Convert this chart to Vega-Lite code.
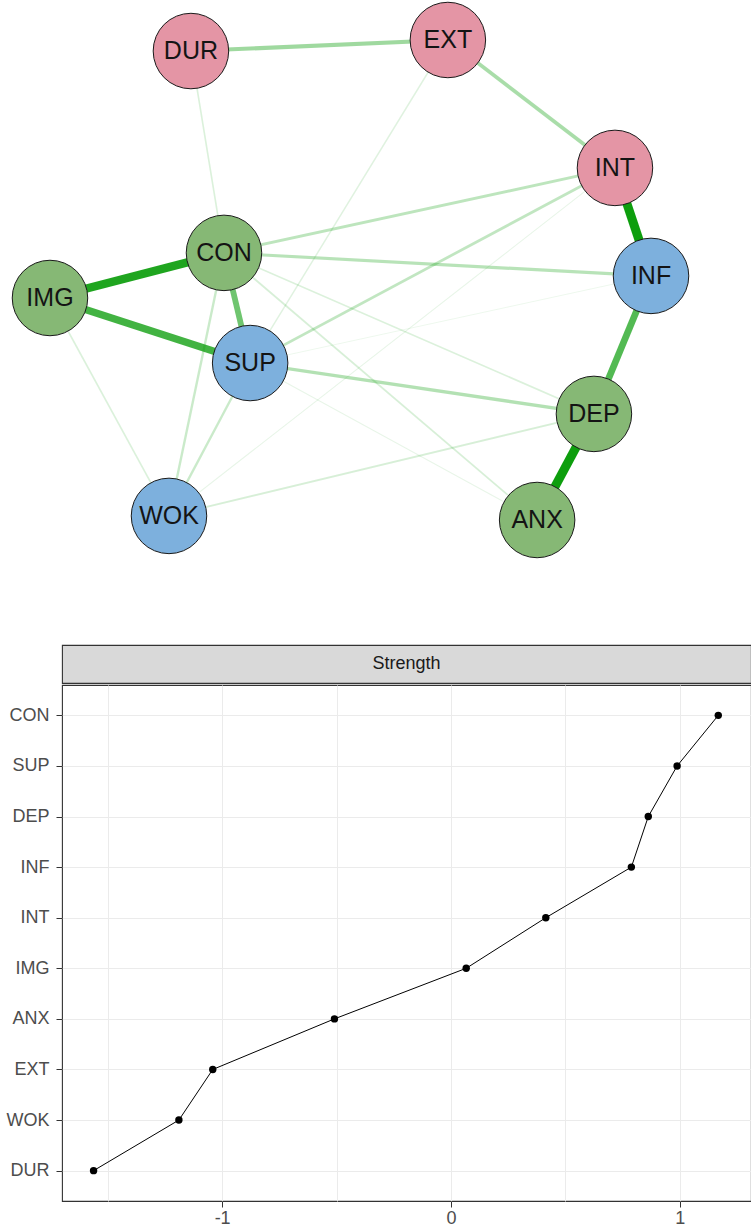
{
  "$schema": "https://vega.github.io/schema/vega-lite/v6.json",
  "padding": 0,
  "background": "white",
  "spacing": 0,
  "datasets": {
    "nodes": [
      {"node": "DUR", "group": "G1", "x": -0.531, "y": 0.954},
      {"node": "EXT", "group": "G1", "x": 0.324, "y": 1.0},
      {"node": "INT", "group": "G1", "x": 0.880, "y": 0.467},
      {"node": "CON", "group": "G2", "x": -0.421, "y": 0.113},
      {"node": "INF", "group": "G3", "x": 1.0, "y": 0.017},
      {"node": "IMG", "group": "G2", "x": -1.0, "y": -0.075},
      {"node": "SUP", "group": "G3", "x": -0.334, "y": -0.346},
      {"node": "DEP", "group": "G2", "x": 0.810, "y": -0.558},
      {"node": "WOK", "group": "G3", "x": -0.604, "y": -0.983},
      {"node": "ANX", "group": "G2", "x": 0.621, "y": -1.0}
    ],
    "edges": [
      {"from": "SUP", "to": "INF", "weight": 0.02},
      {"from": "SUP", "to": "ANX", "weight": 0.03},
      {"from": "WOK", "to": "INT", "weight": 0.03},
      {"from": "EXT", "to": "SUP", "weight": 0.05},
      {"from": "DUR", "to": "CON", "weight": 0.06},
      {"from": "IMG", "to": "WOK", "weight": 0.06},
      {"from": "CON", "to": "DEP", "weight": 0.06},
      {"from": "CON", "to": "ANX", "weight": 0.07},
      {"from": "WOK", "to": "DEP", "weight": 0.07},
      {"from": "CON", "to": "WOK", "weight": 0.10},
      {"from": "SUP", "to": "WOK", "weight": 0.10},
      {"from": "SUP", "to": "INT", "weight": 0.12},
      {"from": "CON", "to": "INT", "weight": 0.13},
      {"from": "CON", "to": "INF", "weight": 0.14},
      {"from": "SUP", "to": "DEP", "weight": 0.15},
      {"from": "EXT", "to": "INT", "weight": 0.17},
      {"from": "DUR", "to": "EXT", "weight": 0.19},
      {"from": "CON", "to": "SUP", "weight": 0.28},
      {"from": "INF", "to": "DEP", "weight": 0.33},
      {"from": "IMG", "to": "SUP", "weight": 0.36},
      {"from": "IMG", "to": "CON", "weight": 0.42},
      {"from": "INT", "to": "INF", "weight": 0.45},
      {"from": "DEP", "to": "ANX", "weight": 0.45}
    ],
    "strength": [
      {"node": "DUR", "strength": -1.562},
      {"node": "WOK", "strength": -1.189},
      {"node": "EXT", "strength": -1.041},
      {"node": "ANX", "strength": -0.509},
      {"node": "IMG", "strength": 0.067},
      {"node": "INT", "strength": 0.415},
      {"node": "INF", "strength": 0.789},
      {"node": "DEP", "strength": 0.863},
      {"node": "SUP", "strength": 0.989},
      {"node": "CON", "strength": 1.169}
    ]
  },
  "vconcat": [
    {
      "width": 690,
      "height": 643,
      "view": {"stroke": null},
      "layer": [
        {
          "data": {"name": "edges"},
          "transform": [
            {"lookup": "from", "from": {"data": {"name": "nodes"}, "key": "node", "fields": ["x", "y"]}, "as": ["x1", "y1"]},
            {"lookup": "to", "from": {"data": {"name": "nodes"}, "key": "node", "fields": ["x", "y"]}, "as": ["x2", "y2"]}
          ],
          "mark": {"type": "rule", "color": "#009900", "strokeCap": "butt"},
          "encoding": {
            "x": {"field": "x1", "type": "quantitative", "scale": {"domain": [-0.960, 1.336], "nice": false, "zero": false}, "axis": null},
            "y": {"field": "y1", "type": "quantitative", "scale": {"domain": [-1.5167, 1.1625], "nice": false, "zero": false}, "axis": null},
            "x2": {"field": "x2"},
            "y2": {"field": "y2"},
            "strokeWidth": {"field": "weight", "type": "quantitative", "scale": {"domain": [0.02, 0.45], "range": [0.9, 9]}, "legend": null},
            "opacity": {"field": "weight", "type": "quantitative", "scale": {"type": "pow", "exponent": 1.2, "domain": [0, 0.45], "range": [0.06, 0.95]}, "legend": null}
          }
        },
        {
          "data": {"name": "nodes"},
          "mark": {"type": "circle", "size": 5700, "stroke": "#1A1A1A", "strokeWidth": 1, "opacity": 1},
          "encoding": {
            "x": {"field": "x", "type": "quantitative", "scale": {"domain": [-0.960, 1.336], "nice": false, "zero": false}, "axis": null},
            "y": {"field": "y", "type": "quantitative", "scale": {"domain": [-1.5167, 1.1625], "nice": false, "zero": false}, "axis": null},
            "fill": {"field": "group", "type": "nominal", "scale": {"domain": ["G1", "G2", "G3"], "range": ["#E495A5", "#86B875", "#7DB0DD"]}, "legend": null}
          }
        },
        {
          "data": {"name": "nodes"},
          "mark": {"type": "text", "fontSize": 25, "font": "Liberation Sans", "color": "#141414", "align": "center", "baseline": "middle"},
          "encoding": {
            "x": {"field": "x", "type": "quantitative", "scale": {"domain": [-0.960, 1.336], "nice": false, "zero": false}, "axis": null},
            "y": {"field": "y", "type": "quantitative", "scale": {"domain": [-1.5167, 1.1625], "nice": false, "zero": false}, "axis": null},
            "text": {"field": "node"}
          }
        }
      ]
    },
    {
      "width": 689,
      "height": 38,
      "view": {"fill": "#D9D9D9", "stroke": "#333333", "strokeWidth": 1.1},
      "data": {"values": [{"panel": "Strength"}]},
      "mark": {"type": "text", "fontSize": 18, "font": "Liberation Sans", "color": "#1A1A1A", "align": "center", "baseline": "middle"},
      "encoding": {"text": {"field": "panel"}}
    },
    {
      "width": 689,
      "height": 516,
      "view": {"stroke": "#333333", "strokeWidth": 1.1},
      "data": {"name": "strength"},
      "encoding": {
        "x": {
          "field": "strength",
          "type": "quantitative",
          "scale": {"domain": [-1.700, 1.312], "nice": false, "zero": false},
          "axis": {
            "title": null,
            "values": [-1.5, -1, -0.5, 0, 0.5, 1],
            "labelExpr": "datum.value % 1 === 0 ? '' + datum.value : ''",
            "tickOpacity": {"condition": {"test": "datum.value % 1 === 0", "value": 1}, "value": 0},
            "grid": true,
            "gridColor": "#EBEBEB",
            "gridWidth": 1,
            "domain": false,
            "tickColor": "#333333",
            "tickSize": 6,
            "labelFontSize": 18,
            "labelColor": "#4D4D4D",
            "labelFont": "Liberation Sans",
            "labelPadding": 2
          }
        },
        "y": {
          "field": "node",
          "type": "nominal",
          "sort": ["CON", "SUP", "DEP", "INF", "INT", "IMG", "ANX", "EXT", "WOK", "DUR"],
          "scale": {"padding": 0.6},
          "axis": {
            "title": null,
            "grid": true,
            "gridColor": "#EBEBEB",
            "gridWidth": 1,
            "domain": false,
            "tickColor": "#333333",
            "tickSize": 6,
            "labelFontSize": 18,
            "labelColor": "#4D4D4D",
            "labelFont": "Liberation Sans",
            "labelPadding": 7,
            "minExtent": 61,
            "maxExtent": 61
          }
        }
      },
      "layer": [
        {"mark": {"type": "line", "color": "black", "strokeWidth": 1}},
        {"mark": {"type": "point", "filled": true, "color": "black", "size": 55, "opacity": 1}}
      ]
    }
  ],
  "config": {
    "view": {"stroke": null},
    "font": "Liberation Sans"
  }
}
